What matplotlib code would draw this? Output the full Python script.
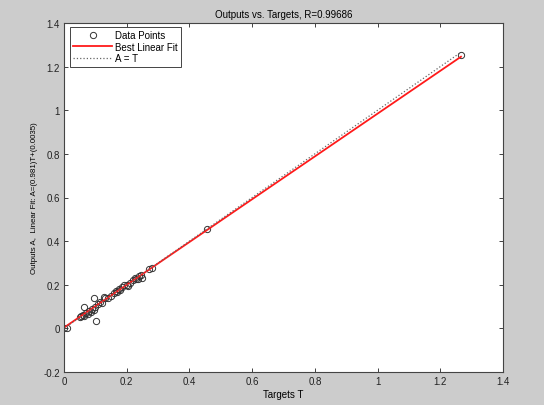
import matplotlib
matplotlib.use("Agg")
import matplotlib.pyplot as plt
import numpy as np

plt.rcParams['font.family'] = ['Liberation Sans', 'DejaVu Sans']

targets = [0.0, 0.01, 0.05, 0.055, 0.06, 0.065, 0.07, 0.075, 0.08, 0.085, 0.09, 0.095,
           0.064, 0.097, 0.101, 0.1, 0.11, 0.115, 0.12, 0.128, 0.13, 0.14, 0.15, 0.16,
           0.165, 0.17, 0.175, 0.18, 0.185, 0.19, 0.203, 0.2, 0.21, 0.22, 0.225, 0.23,
           0.237, 0.24, 0.245, 0.25, 0.27, 0.28, 0.456, 1.266]
outputs = [0.0, 0.002, 0.05, 0.055, 0.06, 0.058, 0.07, 0.065, 0.08, 0.075, 0.09, 0.085,
           0.098, 0.138, 0.033, 0.1, 0.11, 0.12, 0.115, 0.145, 0.14, 0.14, 0.15, 0.16,
           0.17, 0.165, 0.18, 0.175, 0.19, 0.2, 0.194, 0.2, 0.21, 0.22, 0.23, 0.225,
           0.225, 0.24, 0.245, 0.23, 0.27, 0.278, 0.454, 1.252]
slope = 0.981
intercept = 0.0035
r_value = 0.99686

xticks = [0, 0.2, 0.4, 0.6, 0.8, 1, 1.2, 1.4]
yticks = [-0.2, 0, 0.2, 0.4, 0.6, 0.8, 1, 1.2, 1.4]

fig = plt.figure(figsize=(5.44, 4.06), dpi=100, facecolor='#cccccc')
ax = fig.add_axes([64/544, 33/406, (503-64)/544, (373-24)/406])
ax.set_facecolor('white')

mi = min(min(targets), min(outputs))
ma = max(max(targets), max(outputs))
ax.plot(targets, outputs, 'o', mfc='none', mec='#333333', ms=4.5, mew=0.7, label='Data Points')
ax.plot([mi, ma], [slope*mi + intercept, slope*ma + intercept], color='#ff1a1a', lw=1.3,
        label='Best Linear Fit')
ax.plot([mi, ma], [mi, ma], ':', color='#666666', lw=0.9, label='A = T')

ax.set_xlim(0, 1.4)
ax.set_ylim(-0.2, 1.4)
ax.set_xticks(xticks)
ax.set_yticks(yticks)
ax.set_xticklabels(['0', '0.2', '0.4', '0.6', '0.8', '1', '1.2', '1.4'])
ax.set_yticklabels(['-0.2', '0', '0.2', '0.4', '0.6', '0.8', '1', '1.2', '1.4'])
ax.tick_params(direction='in', top=True, right=True, labelsize=7, length=3,
               width=0.6, colors='#222222', pad=3)
for s in ax.spines.values():
    s.set_linewidth(0.8)
    s.set_color('#444444')

ax.set_title('Outputs vs. Targets, R=%.5f' % r_value, fontsize=7, pad=4)
ax.set_xlabel('Targets T', fontsize=7, labelpad=2)
ax.set_ylabel('Outputs A,  Linear Fit: A=(%.3g)T+(%.2g)' % (slope, intercept), fontsize=5.7,
              labelpad=4)

leg = ax.legend(loc='upper left', bbox_to_anchor=(0.0137, 0.9885), fontsize=7,
                fancybox=False, framealpha=1, edgecolor='#444444', borderpad=0.35,
                labelspacing=0.15, handlelength=4.0, borderaxespad=0, handletextpad=0.3)
leg.get_frame().set_linewidth(0.7)

fig.savefig('out.png', dpi=100, facecolor=fig.get_facecolor())
